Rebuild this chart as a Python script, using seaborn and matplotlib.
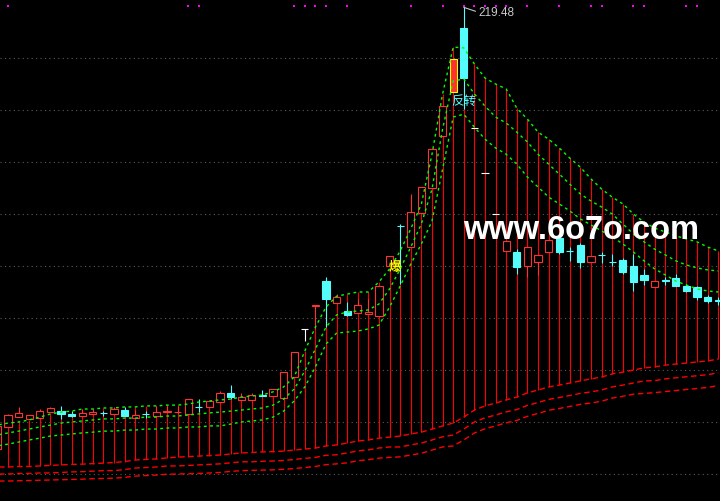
import numpy as np
import pandas as pd
import matplotlib
matplotlib.use('Agg')
import matplotlib.pyplot as plt
import seaborn as sns

# daily bars, index -1 is the bar cut by the left edge
days = list(range(-1, 68))

open_ = [49.6, 58.1, 61.9, 61.2, 61.5, 63.8, 64.2, 63.1, 62.3, 63.1,
         63.5, 63.1, 64.6, 61.5, 63.1, 62.3, 63.8, 63.7, 63.1, 65.8,
         65.8, 67.7, 71.2, 68.5, 68.5, 70.4, 70.0, 69.3, 77.3, 95.8,
         104.8, 114.2, 105.8, 102.7, 101.9, 101.5, 100.8, 120.0, 135.4, 127.3,
         140.4, 150.0, 170.0, 186.9, 211.5, 173.0, 155.7, 140.1, 125.8, 125.4,
         120.0, 121.6, 125.4, 130.8, 125.8, 128.1, 121.6, 124.3, 121.6, 122.3,
         120.0, 116.6, 112.0, 114.6, 115.4, 112.3, 112.0, 108.1, 106.9]
high_ = [58.5, 63.1, 65.8, 62.7, 65.0, 65.8, 66.2, 64.2, 65.0, 65.0,
         64.2, 65.8, 65.8, 64.6, 64.2, 66.2, 66.2, 66.2, 68.8, 68.8,
         68.1, 71.9, 74.2, 71.2, 71.2, 72.3, 72.7, 79.2, 86.9, 95.8,
         105.0, 115.8, 109.2, 106.1, 107.3, 107.3, 112.3, 123.9, 136.2, 147.7,
         150.4, 165.0, 181.5, 199.6, 219.48, 173.0, 155.7, 140.1, 129.6, 126.5,
         127.3, 124.3, 130.0, 132.3, 127.3, 128.9, 123.9, 125.4, 124.6, 123.1,
         124.6, 118.9, 114.3, 115.8, 116.9, 113.1, 112.3, 108.8, 108.1]
low_ = [49.6, 58.1, 61.9, 61.2, 61.5, 63.8, 61.2, 61.9, 62.3, 63.1,
        62.3, 63.1, 62.3, 61.5, 61.5, 62.3, 63.8, 63.5, 63.1, 63.8,
        65.8, 67.7, 68.8, 68.5, 68.5, 70.0, 70.0, 69.3, 77.3, 91.2,
        95.8, 96.5, 105.8, 100.8, 101.9, 101.5, 100.8, 120.0, 113.1, 127.3,
        140.4, 150.0, 170.0, 186.9, 180.4, 173.0, 155.7, 140.1, 125.8, 116.9,
        115.8, 116.6, 125.4, 124.6, 122.0, 119.3, 121.6, 121.2, 120.0, 116.9,
        110.4, 112.7, 112.0, 112.7, 112.3, 110.0, 106.9, 105.8, 105.0]
close_ = [58.5, 62.7, 63.5, 62.7, 64.2, 65.4, 63.1, 62.3, 63.5, 63.8,
          63.3, 65.0, 62.3, 62.7, 62.9, 63.8, 64.2, 63.8, 68.8, 65.6,
          68.1, 71.2, 69.6, 69.6, 70.4, 70.0, 72.7, 79.2, 86.9, 95.8,
          105.0, 107.3, 108.1, 101.2, 105.0, 102.3, 112.3, 123.9, 135.2, 140.8,
          150.4, 165.0, 181.5, 199.6, 192.3, 173.0, 155.7, 140.1, 129.6, 119.6,
          127.3, 124.3, 130.0, 125.4, 125.6, 121.6, 123.9, 124.1, 121.4, 117.7,
          113.9, 114.6, 114.3, 114.4, 112.3, 110.4, 108.1, 106.5, 106.7]

# green indicator lines (fast, mid, slow)
line1 = [58.8, 59.6, 60.0, 60.8, 61.9, 63.1, 63.8, 64.2, 65.0, 65.0,
         65.4, 65.4, 65.8, 65.8, 66.2, 66.2, 66.5, 66.5, 66.9, 67.7,
         68.1, 68.5, 68.8, 69.6, 70.0, 70.4, 71.6, 73.5, 77.3, 87.3,
         96.5, 104.2, 108.4, 109.2, 110.0, 110.0, 113.9, 118.9, 125.8, 134.3,
         143.9, 163.0, 186.2, 204.2, 203.9, 197.7, 192.3, 190.0, 188.1, 180.7,
         176.5, 171.5, 168.8, 165.4, 161.5, 158.0, 153.5, 149.6, 146.5, 143.9,
         140.0, 136.9, 134.6, 133.1, 131.6, 130.4, 129.3, 127.3, 125.8]
line2 = [55.0, 55.8, 56.5, 57.3, 58.1, 58.8, 59.6, 60.0, 60.4, 60.8,
         61.2, 61.2, 61.5, 61.5, 61.9, 61.9, 62.3, 62.3, 62.7, 63.1,
         63.5, 63.8, 64.2, 64.6, 65.0, 65.4, 66.5, 68.8, 72.7, 79.6,
         88.1, 96.5, 101.2, 102.3, 102.7, 103.1, 105.4, 111.2, 118.9, 127.3,
         136.2, 149.6, 172.7, 191.2, 191.9, 186.2, 181.5, 177.3, 175.0, 171.5,
         167.7, 163.0, 159.2, 155.4, 151.5, 147.7, 145.0, 142.7, 140.0, 136.2,
         132.3, 129.3, 126.5, 124.3, 122.0, 120.4, 119.3, 118.5, 118.1]
line3 = [50.8, 51.5, 52.3, 53.1, 53.8, 54.6, 55.0, 55.4, 55.8, 56.1,
         56.5, 56.5, 56.9, 56.9, 57.3, 57.3, 57.7, 57.7, 58.1, 58.1,
         58.5, 58.5, 59.2, 60.0, 60.4, 60.8, 61.9, 64.2, 68.1, 73.5,
         81.2, 90.0, 94.2, 94.6, 95.0, 95.8, 97.3, 104.2, 112.3, 120.8,
         128.5, 137.3, 157.3, 177.3, 178.4, 173.4, 168.8, 165.4, 163.0, 159.2,
         154.2, 150.4, 146.5, 143.9, 141.2, 138.1, 135.8, 133.5, 131.2, 128.5,
         125.4, 122.0, 118.9, 116.6, 114.2, 112.7, 111.2, 110.4, 110.0]

# red support lines at the bottom
floor1 = [42.7, 42.7, 42.9, 42.9, 43.1, 43.3, 43.5, 43.7, 43.8, 44.0,
          44.2, 44.4, 44.8, 45.4, 45.6, 45.8, 46.2, 46.5, 46.7, 46.9,
          47.1, 47.3, 47.7, 48.1, 48.3, 48.5, 48.6, 48.8, 49.2, 49.6,
          50.0, 50.8, 51.2, 51.9, 52.7, 53.1, 53.8, 54.2, 54.6, 55.4,
          56.1, 57.3, 58.5, 59.6, 61.9, 64.6, 66.2, 67.3, 68.5, 69.6,
          71.2, 72.3, 73.5, 74.2, 75.0, 75.8, 76.6, 77.3, 78.5, 79.2,
          80.0, 80.8, 81.2, 81.9, 82.3, 82.7, 83.1, 83.5, 84.2]
floor2 = [40.0, 40.0, 40.2, 40.2, 40.4, 40.4, 40.6, 40.8, 40.9, 41.1,
          41.3, 41.3, 41.7, 42.3, 42.5, 42.7, 43.1, 43.1, 43.3, 43.5,
          43.7, 43.9, 44.3, 44.7, 44.7, 44.9, 45.0, 45.2, 45.6, 46.0,
          46.4, 47.2, 47.4, 48.1, 48.9, 49.3, 50.0, 50.4, 50.4, 51.2,
          51.9, 53.1, 54.3, 55.0, 57.3, 60.0, 61.6, 62.7, 63.9, 64.8,
          66.4, 67.5, 68.7, 69.4, 70.2, 71.0, 71.6, 72.3, 73.5, 74.2,
          75.0, 75.8, 75.9, 76.6, 77.0, 77.4, 77.8, 78.2, 78.9]
floor3 = [37.3, 37.3, 37.4, 37.5, 37.6, 37.7, 37.8, 37.9, 38.0, 38.2,
          38.3, 38.4, 38.7, 39.2, 39.4, 39.6, 39.9, 40.0, 40.1, 40.2,
          40.4, 40.6, 41.0, 41.3, 41.4, 41.5, 41.6, 41.8, 42.1, 42.5,
          42.9, 43.6, 43.9, 44.3, 45.1, 45.5, 46.1, 46.4, 46.6, 47.3,
          48.0, 49.2, 50.4, 50.8, 53.1, 55.8, 57.4, 58.5, 59.7, 60.6,
          62.2, 63.3, 64.5, 65.2, 66.0, 66.8, 67.3, 68.0, 69.2, 69.9,
          70.7, 71.0, 71.3, 71.7, 72.1, 72.5, 72.9, 73.3, 74.0]

signal_days = [0, 17, 18, 27, 28, 29, 30, 32, 38, 41, 43, 44, 45, 46, 47,
               49, 52, 55, 56, 59, 60, 64, 65]
grid_levels = [40, 60, 80, 100, 120, 140, 160, 180, 200]
peak_day = 43
boom_day = 36.5
highlight_day = 42

RED = '#ff3232'
LINE_RED = '#ff0000'
CYAN = '#54fcfc'
GREEN = '#00ff00'

sns.set_theme(style='dark', rc={'axes.facecolor': 'black', 'figure.facecolor': 'black'})
plt.rcParams['font.family'] = ['Noto Sans CJK SC', 'DejaVu Sans']

df = pd.DataFrame({'day': days, 'open': open_, 'high': high_, 'low': low_,
                   'close': close_, 'line1': line1, 'line2': line2, 'line3': line3,
                   'floor1': floor1, 'floor2': floor2, 'floor3': floor3})

fig = plt.figure(figsize=(7.2, 5.02), dpi=100)
ax = fig.add_axes([0, 0, 1, 1])
ax.set_facecolor('black')

for level in grid_levels:
    ax.axhline(level, color='#5a5a5a', lw=0.8, ls=(0, (1, 3)), zorder=0)

# red stems from the fast line down to the support line
ax.vlines(df['day'], df['floor1'], df['line1'], colors=LINE_RED, lw=0.8, zorder=1)

for col in ['floor1', 'floor2', 'floor3']:
    sns.lineplot(data=df, x='day', y=col, ax=ax, color=LINE_RED, linewidth=1.0,
                 linestyle=(0, (4, 2.5)), legend=False, zorder=2)

up = df['close'] > df['open']
down = df['close'] < df['open']
colors = np.where(up, RED, np.where(down, CYAN, 'white'))
faces = np.where(up, 'black', colors).astype(object)
edges = colors.astype(object)
hl = df['day'] == highlight_day
faces[hl.values] = RED
edges[hl.values] = 'yellow'

ax.vlines(df['day'], df['low'], df['high'], colors=colors, lw=0.8, zorder=3)
body = (df['close'] - df['open']).abs()
bottom = df[['open', 'close']].min(axis=1)
ax.bar(df['day'], body, bottom=bottom, width=0.68, color=faces,
       edgecolor=edges, linewidth=0.8, zorder=4)

for col in ['line1', 'line2', 'line3']:
    sns.lineplot(data=df, x='day', y=col, ax=ax, color=GREEN, linewidth=1.0,
                 linestyle=(0, (2, 2.5)), legend=False, zorder=5)

ax.scatter(signal_days, [220.0] * len(signal_days), marker='s', s=3,
           color='#ff00ff', linewidths=0, zorder=6)

ax.annotate('219.48', xy=(peak_day, df.loc[df['day'] == peak_day, 'high'].iloc[0]),
            xytext=(15, -5), textcoords='offset pixels', color='#c8c8c8',
            fontsize=8.5, family='Liberation Sans', ha='left', va='center',
            arrowprops=dict(arrowstyle='-', color='#c8c8c8', lw=0.8,
                            shrinkA=0, shrinkB=0, relpos=(0, 0.5)), zorder=7)
ax.text(peak_day, 183.5, '反转', color=CYAN, fontsize=9, ha='center', va='center', zorder=7)
ax.text(boom_day, 120.0, '爆', color='yellow', fontsize=9, fontweight='bold',
        ha='center', va='center', zorder=7)
ax.text(0.643, 0.54, 'www.6o7o.com', transform=ax.transAxes, color='white',
        fontsize=23.5, fontweight='bold', family='Liberation Sans',
        ha='left', va='center', zorder=10)

ax.set_xlim(-0.755, 67.17)
ax.set_ylim(29.62, 222.7)
ax.set_xlabel(None)
ax.set_ylabel(None)
ax.set_xticks([])
ax.set_yticks([])
for spine in ax.spines.values():
    spine.set_visible(False)

fig.savefig('out.png', dpi=100, facecolor='black')
